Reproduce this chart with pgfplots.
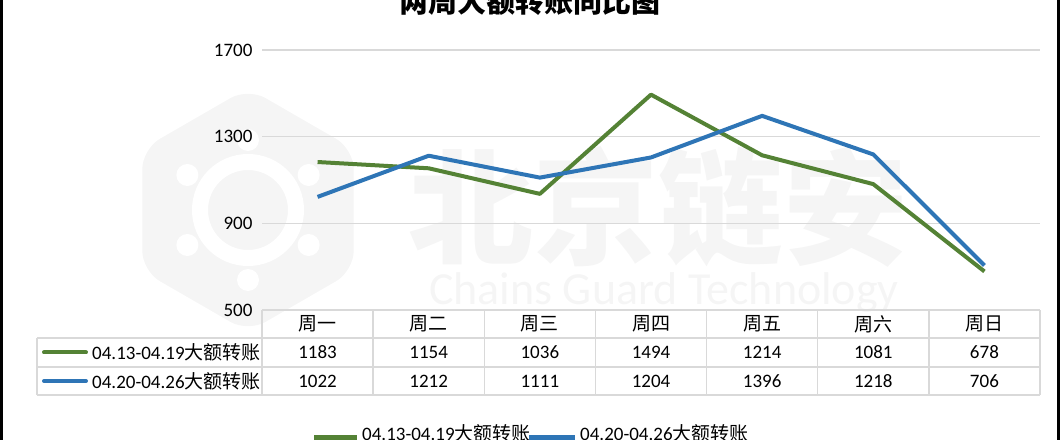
\documentclass[border=0pt]{standalone}
\usepackage{fontspec}
\setmainfont{Carlito}
\newfontfamily\cjk{Noto Sans CJK SC}
\usepackage{pgfplots}
\usepackage{pgfplotstable}
\pgfplotsset{compat=1.18}

\definecolor{wkgreen}{RGB}{84,130,53}
\definecolor{wkblue}{RGB}{46,117,182}
\definecolor{gridgray}{RGB}{217,217,217}
\definecolor{markgray}{RGB}{245,245,245}

% large transfers per weekday, two consecutive weeks
\pgfplotstableread{
day a    b
0   1183 1022
1   1154 1212
2   1036 1111
3   1494 1204
4   1214 1396
5   1081 1218
6   678  706
}\weektable

\newcommand{\cellfont}{\fontsize{19}{22}\selectfont}

\begin{document}
\begin{tikzpicture}[x=1pt,y=1pt]
\useasboundingbox (0,0) rectangle (1062,439);
\clip (0,0) rectangle (1062,439);

% background watermark
\fill[markgray, rounded corners=20] (248,351) -- (353.7,290) -- (353.7,168)
  -- (248,107) -- (142.3,168) -- (142.3,290) -- cycle;
\draw[white, line width=16] (248,229) circle (48);
\foreach \a in {30,90,...,330} \fill[white] (248,229) ++(\a:70) circle (11);
\node[markgray, font=\cjk\bfseries\fontsize{125}{125}\selectfont] at (658,232) {北京链安};
\node[markgray, font=\fontsize{46}{46}\selectfont] at (664,147) {Chains Guard Technology};

% title
\node[font=\cjk\bfseries\fontsize{29}{29}\selectfont] at (530,437) {两周大额转账同比图};

\begin{axis}[
  at={(262pt,129pt)}, anchor=south west,
  scale only axis, width=778pt, height=260pt,
  xmin=-0.5, xmax=6.5, ymin=500, ymax=1700,
  ytick={500,900,1300,1700}, xtick=\empty,
  ymajorgrids, grid style={gridgray, line width=1.5pt},
  axis line style={draw=none}, major tick length=0pt,
  yticklabel style={font=\cellfont, xshift=-6pt},
  /pgf/number format/assume math mode=true,
  /pgf/number format/1000 sep={},
  clip=false,
]
\addplot[wkgreen, line width=4pt, line join=round] table[x=day, y=a] {\weektable};
\addplot[wkblue, line width=4pt, line join=round] table[x=day, y=b] {\weektable};
\end{axis}

% data table under the plot
\begin{scope}[gridgray, line width=1.5]
  \draw (262,129) -- (1040,129);
  \draw (37,101) -- (1040,101);
  \draw (37,72) -- (1040,72);
  \draw (37,44) -- (1040,44);
  \draw (37,44) -- (37,101);
  \foreach \k in {0,...,7} \draw ({262+\k*111.143},44) -- ++(0,85);
\end{scope}
\foreach \d [count=\i from 0] in {周一,周二,周三,周四,周五,周六,周日}
  \node[font=\cjk\cellfont] at ({262+(\i+0.5)*111.143},115) {\d};
\foreach \i in {0,...,6} {
  \pgfplotstablegetelem{\i}{a}\of\weektable
  \node[font=\cellfont] at ({262+(\i+0.5)*111.143},86.5) {\pgfplotsretval};
  \pgfplotstablegetelem{\i}{b}\of\weektable
  \node[font=\cellfont] at ({262+(\i+0.5)*111.143},58) {\pgfplotsretval};
}
\draw[wkgreen, line width=4, line cap=round] (44,86.5) -- (86,86.5);
\node[anchor=west, font=\cellfont, inner sep=0pt] at (92,86.5) {04.13-04.19{\cjk 大额转账}};
\draw[wkblue, line width=4, line cap=round] (44,58) -- (86,58);
\node[anchor=west, font=\cellfont, inner sep=0pt] at (92,58) {04.20-04.26{\cjk 大额转账}};

% legend
\draw[wkgreen, line width=5] (314,2) -- (357,2);
\node[anchor=base west, font=\cellfont, inner sep=0pt] at (362,-1) {04.13-04.19{\cjk 大额转账}};
\draw[wkblue, line width=5] (529,2) -- (575,2);
\node[anchor=base west, font=\cellfont, inner sep=0pt] at (580,-1) {04.20-04.26{\cjk 大额转账}};

% outer frame
\draw[black, line width=2.5] (1.5,-5) rectangle (1058.5,445);
\end{tikzpicture}
\end{document}
